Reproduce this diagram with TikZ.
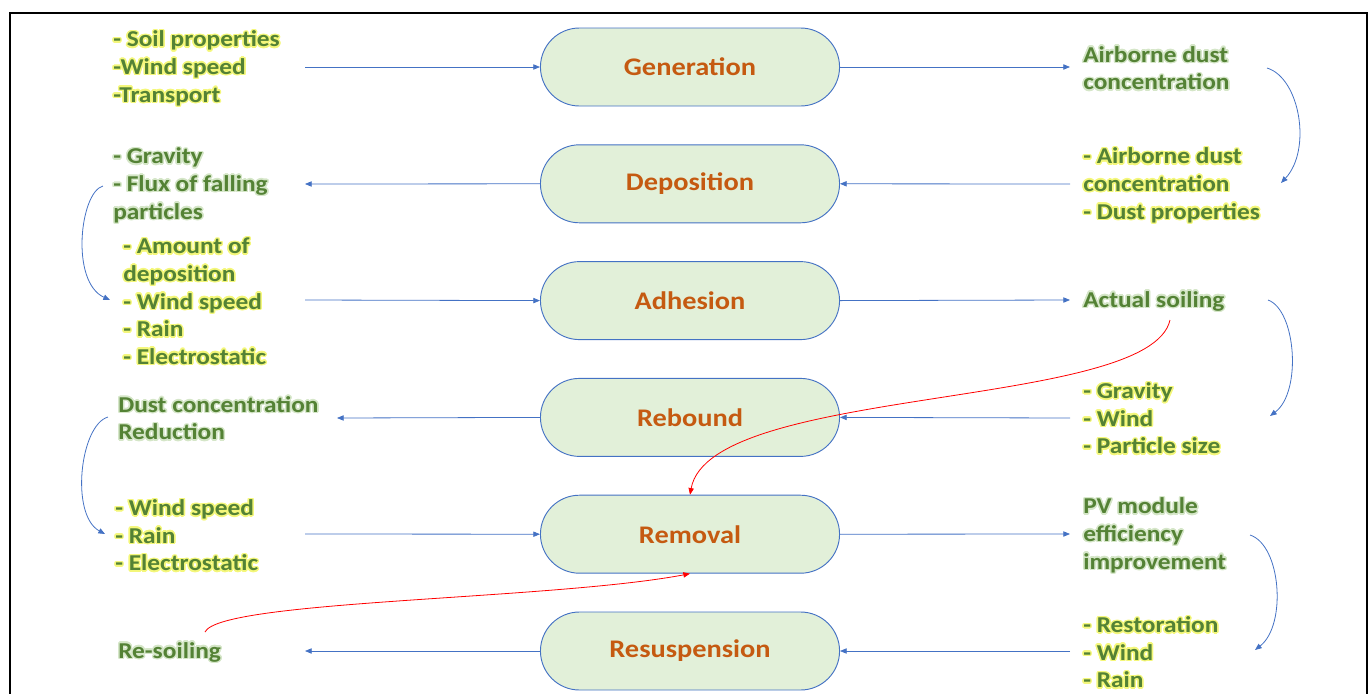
\documentclass[tikz,border=0pt]{standalone}
\usepackage{fontspec}
\setmainfont{Carlito}[FakeStretch=1.12]
\usepackage{contour}
\contourlength{1.1pt}
\usetikzlibrary{arrows.meta,shapes.misc}

\definecolor{pillfill}{HTML}{E2F0D9}
\definecolor{pilledge}{HTML}{4472C4}
\definecolor{pilltext}{HTML}{C55A11}
\definecolor{factortext}{HTML}{548235}
\definecolor{flowblue}{HTML}{4472C4}
\definecolor{soilred}{HTML}{FF0000}
\definecolor{glowyellow}{HTML}{F4F77A}
\definecolor{glowgreen}{HTML}{D5E6C8}

% glowing factor lines
\newcommand{\yl}[1]{\contour{glowyellow}{#1}}
\newcommand{\gl}[1]{\contour{glowgreen}{#1}}

\tikzset{
  pill/.style={rounded rectangle, draw=pilledge, fill=pillfill, line width=0.7pt,
    minimum width=231pt, minimum height=58.5pt, text=pilltext,
    font=\bfseries\fontsize{19}{22}\selectfont},
  factor/.style={anchor=west, align=left, inner sep=0pt, text=factortext,
    font=\bfseries\fontsize{17}{20.7}\selectfont},
  flow/.style={draw=flowblue, line width=0.6pt, -{Triangle[length=5pt,width=4pt]}},
  loopflow/.style={flow},
  resoil/.style={draw=soilred, line width=0.6pt, -{Triangle[length=5pt,width=4pt]}}
}

\begin{document}
\begin{tikzpicture}[x=0.75pt, y=-0.75pt]
        % canvas
        \useasboundingbox (0,0) rectangle (1371,693);
        \draw[line width=1.5pt] (9.5,700) -- (9.5,13) -- (1367,13) -- (1367,700);

        % parameters
        \def\xc{690}    % centre of the pills
        \def\dy{116.8}  % distance between rows

        % process pills
        \foreach \n/\t [count=\i] in {gen/Generation, dep/Deposition, adh/Adhesion,
                                      reb/Rebound, rem/Removal, res/Resuspension}{
            \pgfmathsetmacro{\yr}{67+(\i-1)*\dy}
            \node[pill] (\n) at (\xc,\yr) {\t};
        }

        % left factors
        \node[factor] (genin)  at (113,69)  {\yl{- Soil properties}\\\yl{-Wind speed}\\\yl{-Transport}};
        \node[factor] (depout) at (113,186) {\gl{- Gravity}\\\gl{- Flux of falling}\\\gl{particles}};
        \node[factor] (adhin)  at (123,302) {\yl{- Amount of}\\\yl{deposition}\\\yl{- Wind speed}\\\yl{- Rain}\\\yl{- Electrostatic}};
        \node[factor] (rebout) at (118,419) {\gl{Dust concentration}\\\gl{Reduction}};
        \node[factor] (remin)  at (115,536) {\yl{- Wind speed}\\\yl{- Rain}\\\yl{- Electrostatic}};
        \node[factor] (resout) at (118,653) {\gl{Re-soiling}};

        % right factors
        \node[factor] (genout) at (1083,69)  {\gl{Airborne dust}\\\gl{concentration}};
        \node[factor] (depin)  at (1083,186) {\yl{- Airborne dust}\\\yl{concentration}\\\yl{- Dust properties}};
        \node[factor] (adhout) at (1083,302) {\gl{Actual soiling}};
        \node[factor] (rebin)  at (1083,419) {\yl{- Gravity}\\\yl{- Wind}\\\yl{- Particle size}};
        \node[factor] (remout) at (1083,536) {\gl{PV module}\\\gl{efficiency}\\\gl{improvement}};
        \node[factor] (resin)  at (1083,653) {\yl{- Restoration}\\\yl{- Wind}\\\yl{- Rain}};

        % arrow ends beside the factor lists
        \foreach \n/\y in {genl/67, depl/184, adhl/300, reml/534, resl/651}
            \coordinate (\n) at (305,\y);
        \coordinate (rebl) at (337,418);
        \foreach \n/\y in {genr/67, depr/184, adhr/300, rebr/418, remr/534, resr/651}
            \coordinate (\n) at (1070,\y);

        % straight flows
        \draw[flow] (genl) -- (gen.west);
        \draw[flow] (gen.east) -- (genr);
        \draw[flow] (depr) -- (dep.east);
        \draw[flow] (dep.west) -- (depl);
        \draw[flow] (adhl) -- (adh.west);
        \draw[flow] (adh.east) -- (adhr);
        \draw[flow] (rebr) -- (reb.east);
        \draw[flow] (reb.west) -- (rebl);
        \draw[flow] (reml) -- (rem.west);
        \draw[flow] (rem.east) -- (remr);
        \draw[flow] (resr) -- (res.east);
        \draw[flow] (res.west) -- (resl);

        % loops from one row to the next
        \coordinate (r1a) at (1267,68);  \coordinate (r1b) at (1281,183);
        \coordinate (l1a) at (103,186);  \coordinate (l1b) at (110,300);
        \coordinate (r2a) at (1268,300); \coordinate (r2b) at (1270,416);
        \coordinate (l2a) at (108,417);  \coordinate (l2b) at (105,534);
        \coordinate (r3a) at (1250,535); \coordinate (r3b) at (1255,650);
        \draw[loopflow] (r1a) .. controls (1300,78) and (1312,150) .. (r1b);
        \draw[loopflow] (l1a) .. controls (80,192) and (70,282) .. (l1b);
        \draw[loopflow] (r2a) .. controls (1296,310) and (1302,392) .. (r2b);
        \draw[loopflow] (l2a) .. controls (80,425) and (70,515) .. (l2b);
        \draw[loopflow] (r3a) .. controls (1281,545) and (1287,625) .. (r3b);

        % re-soiling
        \coordinate (soila) at (1170,320);
        \coordinate (soilb) at (205,632);
        \draw[resoil] (soila) .. controls (1150,410) and (710,385) .. (rem.north);
        \draw[resoil] (soilb) .. controls (220,600) and (550,600) .. (rem.south);
\end{tikzpicture}
\end{document}
